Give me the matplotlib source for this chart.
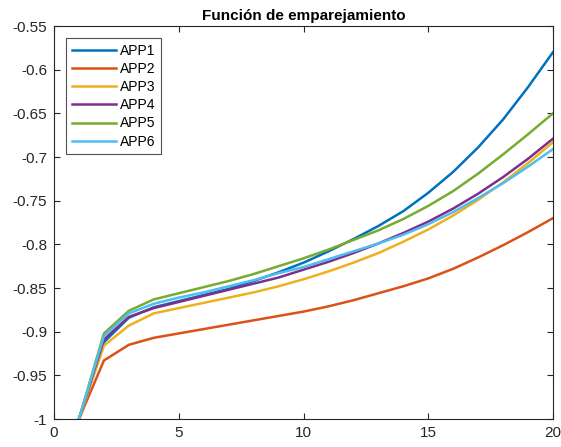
import matplotlib
matplotlib.use('Agg')
import matplotlib.pyplot as plt

x = list(range(1, 21))

app1 = [-1.0, -0.912, -0.884, -0.872, -0.865, -0.858, -0.851, -0.842, -0.832, -0.821,
        -0.808, -0.794, -0.779, -0.762, -0.741, -0.717, -0.689, -0.657, -0.620, -0.580]
app2 = [-1.0, -0.933, -0.915, -0.907, -0.902, -0.897, -0.892, -0.887, -0.882, -0.877,
        -0.871, -0.864, -0.856, -0.848, -0.839, -0.828, -0.815, -0.801, -0.786, -0.770]
app3 = [-1.0, -0.916, -0.893, -0.879, -0.873, -0.867, -0.861, -0.855, -0.848, -0.840,
        -0.831, -0.821, -0.810, -0.797, -0.783, -0.767, -0.749, -0.729, -0.707, -0.683]
app4 = [-1.0, -0.909, -0.883, -0.873, -0.866, -0.859, -0.852, -0.845, -0.838, -0.829,
        -0.820, -0.810, -0.799, -0.787, -0.774, -0.759, -0.742, -0.723, -0.702, -0.679]
app5 = [-1.0, -0.902, -0.876, -0.863, -0.856, -0.849, -0.842, -0.834, -0.825, -0.816,
        -0.806, -0.795, -0.784, -0.771, -0.756, -0.739, -0.719, -0.697, -0.674, -0.650]
app6 = [-1.0, -0.905, -0.879, -0.868, -0.861, -0.855, -0.848, -0.841, -0.833, -0.826,
        -0.817, -0.808, -0.799, -0.789, -0.777, -0.763, -0.747, -0.730, -0.711, -0.691]

series = [app1, app2, app3, app4, app5, app6]
labels = ['APP1', 'APP2', 'APP3', 'APP4', 'APP5', 'APP6']
colors = ['#0072BD', '#D95319', '#EDB120', '#7E2F8E', '#77AC30', '#4DBEEE']

yticks = [-1, -0.95, -0.9, -0.85, -0.8, -0.75, -0.7, -0.65, -0.6, -0.55]
ytick_labels = ['-1', '-0.95', '-0.9', '-0.85', '-0.8', '-0.75', '-0.7', '-0.65', '-0.6', '-0.55']
xticks = [0, 5, 10, 15, 20]

plt.rcParams['font.family'] = ['Liberation Sans', 'DejaVu Sans']

fig = plt.figure(figsize=(5.61, 4.47), dpi=100)
ax = fig.add_axes([0.0963, 0.0626, 0.8894, 0.8792])

for ys, lab, c in zip(series, labels, colors):
    ax.plot(x, ys, color=c, linewidth=1.8, label=lab)

ax.set_xlim(0, 20)
ax.set_ylim(-1, -0.55)
ax.set_xticks(xticks)
ax.set_xticklabels([str(t) for t in xticks])
ax.set_yticks(yticks)
ax.set_yticklabels(ytick_labels)

edge = '#262626'
for sp in ax.spines.values():
    sp.set_color(edge)
    sp.set_linewidth(0.8)
ax.tick_params(direction='in', length=4, width=0.8, colors=edge, labelsize=11,
               top=True, right=True, pad=5)
ax.set_title('Función de emparejamiento', fontsize=11, fontweight='bold', pad=4)

leg = ax.legend(loc='upper left', bbox_to_anchor=(0.024, 0.969), borderaxespad=0,
                fontsize=10, frameon=True, fancybox=False, edgecolor=edge,
                handlelength=3.17, labelspacing=0.3, borderpad=0.4, handletextpad=0.34)
leg.get_frame().set_linewidth(0.8)

fig.savefig('out.png', dpi=100)
